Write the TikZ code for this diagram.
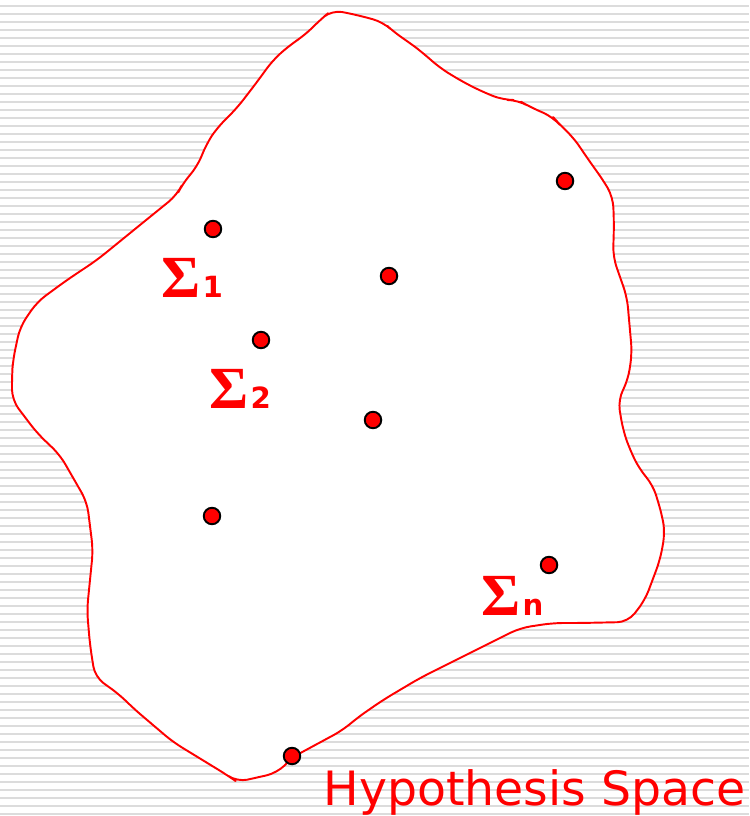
\documentclass[tikz,border=0pt]{standalone}
\usepackage{fontspec}
\setmainfont{DejaVu Sans}
\newfontfamily\sigfont{Liberation Serif}
\definecolor{stripegray}{RGB}{220,220,220}
\tikzset{
  hypdot/.style={circle,fill=red,draw=black,line width=0.55pt,minimum size=0.165cm,inner sep=0pt},
  siglabel/.style={anchor=base west,inner sep=0pt,text=red,font=\bfseries},
}
\newcommand{\hypsig}[1]{{\sigfont\fontsize{17}{20}\selectfont Σ}\kern0.5pt{\fontsize{8.3}{10}\selectfont #1}}
\begin{document}
\begin{tikzpicture}[x=0.01cm,y=-0.01cm]
\useasboundingbox (0,0) rectangle (749,816);
\fill[white] (0,0) rectangle (749,816);

% striped background
\foreach \k in {0,...,101}
  \draw[stripegray,line width=0.57pt] (0,6+8*\k) -- (749,6+8*\k);

% hypothesis region
\filldraw[fill=white,draw=red,line width=0.55pt,line join=round,rounded corners=3pt]
  (332,10) -- (357,15) -- (383,22) -- (395,33) -- (410,43) -- (423,53)
  -- (440,68) -- (463,82) -- (483,92) -- (503,100) -- (518,100) -- (530,107)
  -- (553,117) -- (560,125) -- (573,137) -- (590,162) -- (603,180) -- (613,197)
  -- (614,225) -- (613,257) -- (627,297) -- (632,353) -- (628,380) -- (618,400)
  -- (623,430) -- (630,450) -- (640,470) -- (653,485) -- (662,515) -- (665,533)
  -- (660,560) -- (645,600) -- (628,622) -- (580,623) -- (553,623) -- (520,628)
  -- (470,653) -- (420,678) -- (383,700) -- (357,718) -- (343,730) -- (293,757)
  -- (277,773) -- (237,782) -- (227,775) -- (173,742) -- (133,708) -- (120,695)
  -- (95,677) -- (90,645) -- (87,610) -- (93,550) -- (87,502) -- (60,455)
  -- (37,433) -- (12,400) -- (12,375) -- (13,360) -- (20,327) -- (37,302)
  -- (67,280) -- (97,260) -- (140,225) -- (177,195) -- (183,183) -- (197,167)
  -- (207,143) -- (217,128) -- (237,108) -- (257,82) -- (273,60) -- (290,45)
  -- (305,35) -- (320,20) -- cycle;

% hypotheses
\node[hypdot] (h1) at (213,229) {};
\node[hypdot] (h2) at (565,181) {};
\node[hypdot] (h3) at (389,276) {};
\node[hypdot] (h4) at (261,340) {};
\node[hypdot] (h5) at (373,420) {};
\node[hypdot] (h6) at (212,516) {};
\node[hypdot] (h7) at (549,565) {};
\node[hypdot] (h8) at (292,756) {};

% labels
\node[siglabel] (sig1) at (161,298) {\hypsig{1}};
\node[siglabel] (sig2) at (209,408) {\hypsig{2}};
\node[siglabel] (sign) at (481,615) {\hypsig{n}};

\node[anchor=base west,inner sep=0pt,text=red,font=\fontsize{13.45}{16}\selectfont]
  (title) at (323,805) {Hypothesis Space};
\end{tikzpicture}
\end{document}
